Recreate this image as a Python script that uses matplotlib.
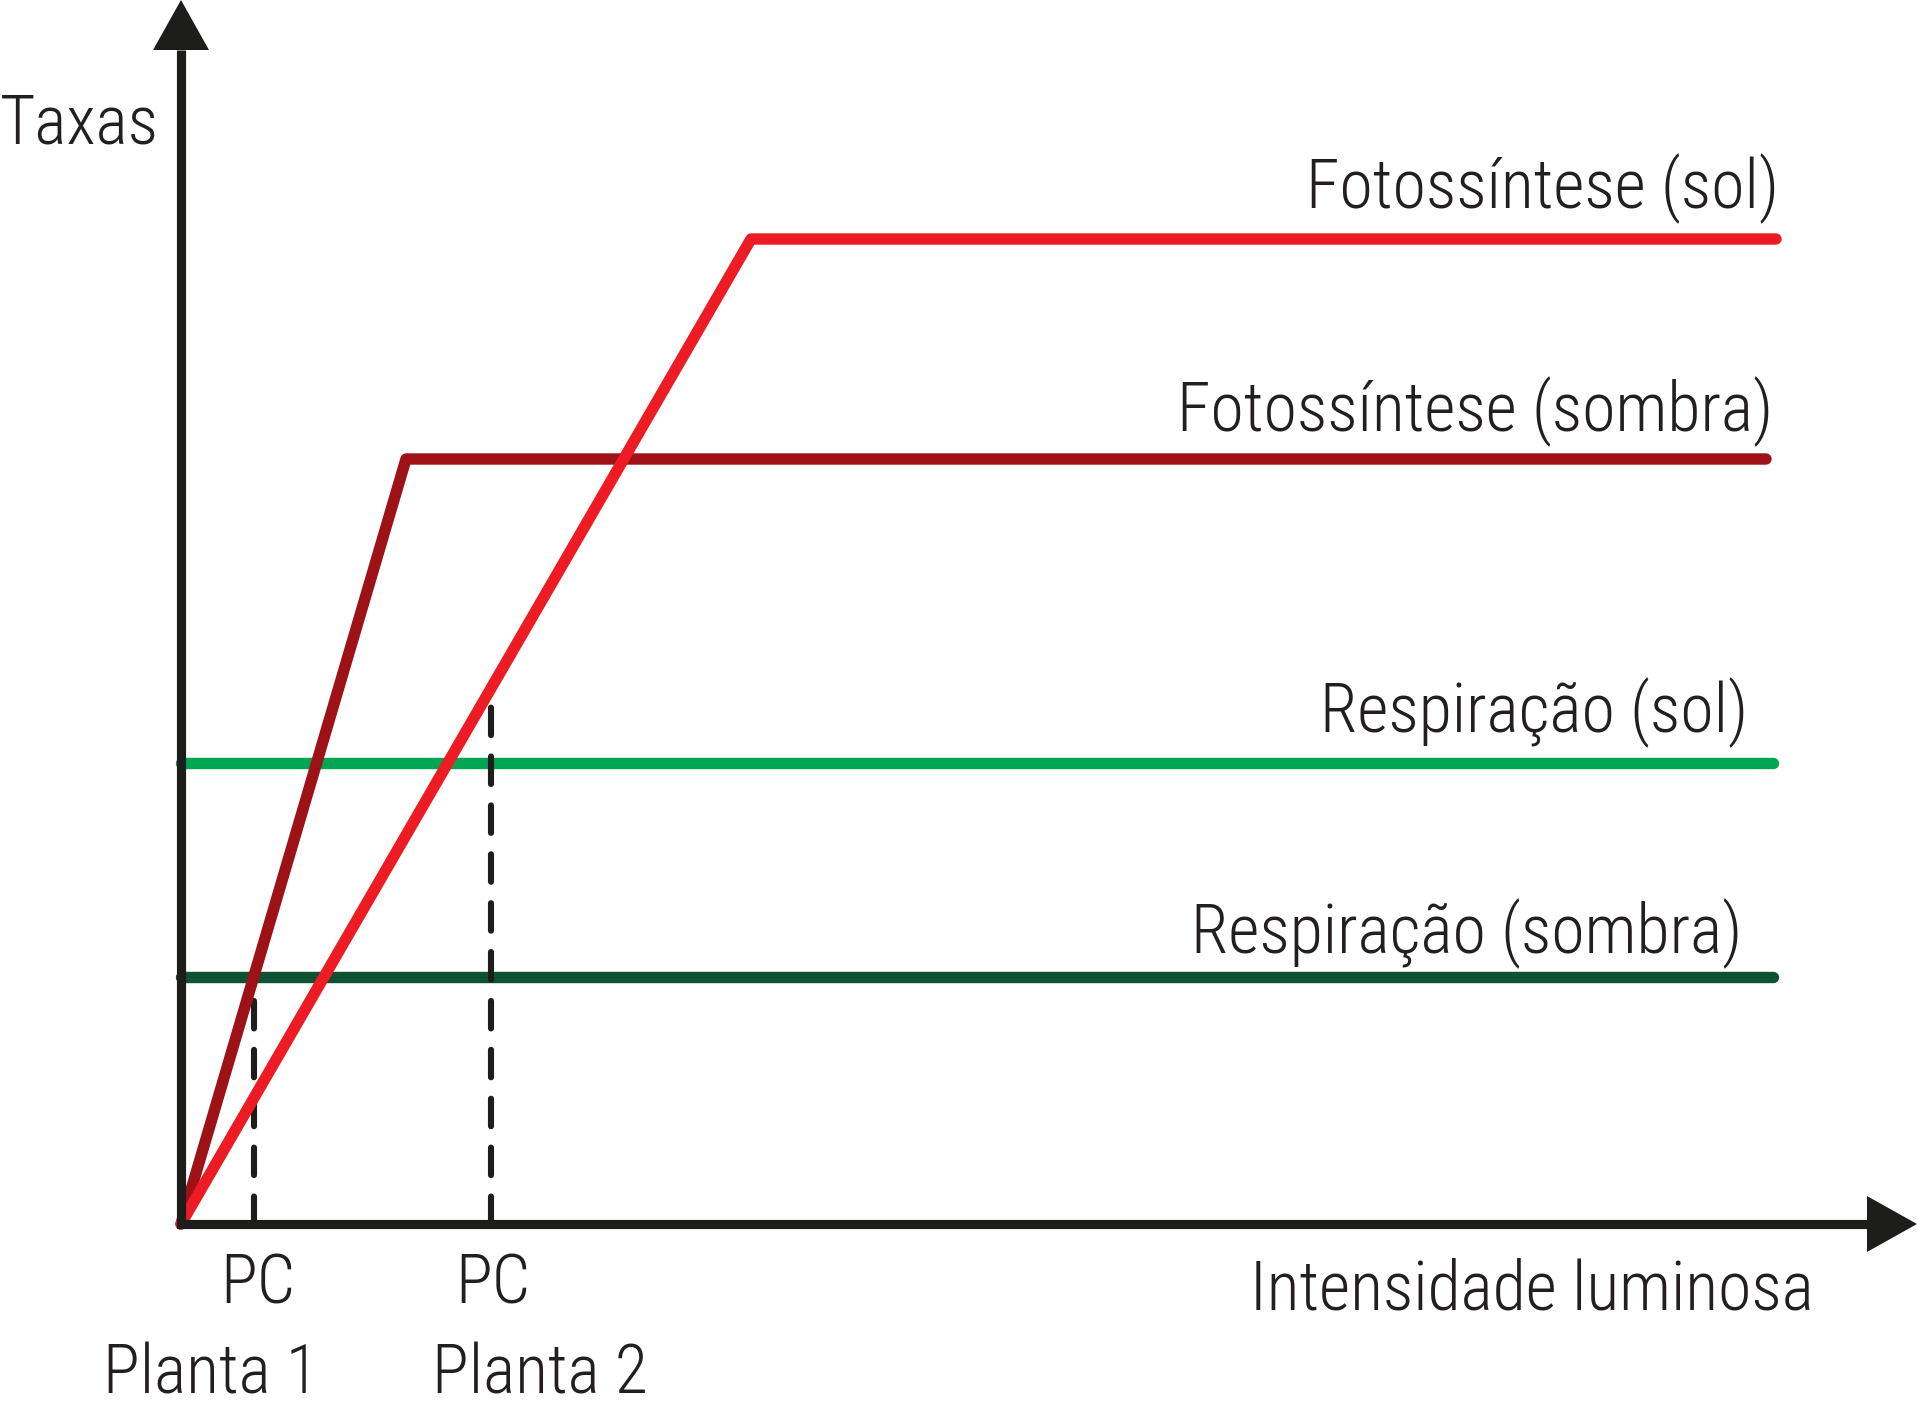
import os
import matplotlib
matplotlib.use("Agg")
import matplotlib.pyplot as plt
from matplotlib import font_manager
from matplotlib.font_manager import FontProperties

# ---- data (arbitrary units; origin at 0,0) ----
foto_sol_x = [0, 57.0, 159.5]
foto_sol_y = [0, 98.5, 98.5]
foto_sombra_x = [0, 22.5, 158.5]
foto_sombra_y = [0, 76.5, 76.5]
resp_x = [0, 159.2]
resp_sol_y = 46.1
resp_sombra_y = 24.7
pc_x = [7.25, 31.0]
pc_top = [24.6, 53.4]
series_labels = ["Fotossíntese (sol)", "Fotossíntese (sombra)",
                 "Respiração (sol)", "Respiração (sombra)"]
xlabel = "Intensidade luminosa"
ylabel = "Taxas"

# ---- fonts: prefer a condensed light sans ----
prefs = ["notosans-condensedlight", "robotocondensed-light", "roboto_condensed-light",
         "opensans-condensedlight", "notosans-condensed", "robotocondensed-regular",
         "notosans-extracondensedlight", "liberationsansnarrow-regular",
         "dejavusanscondensed"]
files = {}
for f in font_manager.fontManager.ttflist:
    b = os.path.splitext(os.path.basename(f.fname))[0].lower()
    files.setdefault(b, f.fname)
chosen = None
for p in prefs:
    if p in files:
        chosen = files[p]
        break
if chosen is None:
    for b, fn in files.items():
        if "condensed" in b or "narrow" in b:
            chosen = fn
            break
FP = FontProperties(fname=chosen) if chosen else FontProperties(family="DejaVu Sans", stretch="condensed")

TXT = "#231f20"
AX = "#1d1d1b"
RED = "#ed1c24"
DRED = "#9d1117"
GREEN = "#00a651"
DGREEN = "#0f5133"

W, H = 1920, 1408
fig = plt.figure(figsize=(W / 100, H / 100), dpi=100)
ox, oy = 181, 1224
ax = fig.add_axes([ox / W, (H - oy) / H, (W - ox) / W, oy / H])
xmax = (W - ox) / 10
ymax = oy / 10
ax.set_xlim(0, xmax)
ax.set_ylim(0, ymax)
ax.axis("off")

FS = 49
LW = 8.2

# respiration lines
ax.plot(resp_x, [resp_sol_y] * 2, color=GREEN, lw=LW, solid_capstyle="round", zorder=2, clip_on=False)
ax.plot(resp_x, [resp_sombra_y] * 2, color=DGREEN, lw=LW, solid_capstyle="round", zorder=2, clip_on=False)

# dashed PC lines
for x, t in zip(pc_x, pc_top):
    ax.plot([x, x], [0, t], color=AX, lw=4.4, dashes=(4.5, 3.5),
            dash_capstyle="round", zorder=3, clip_on=False)

# photosynthesis
ax.plot(foto_sombra_x, foto_sombra_y, color=DRED, lw=LW, solid_capstyle="round",
        solid_joinstyle="round", zorder=4, clip_on=False)
ax.plot(foto_sol_x, foto_sol_y, color=RED, lw=LW, solid_capstyle="round",
        solid_joinstyle="round", zorder=5, clip_on=False)

# axes with arrows
ah_len, ah_w = 5.0, 2.8
tip_x = xmax - 0.3
tip_y = ymax
ax.plot([0, 0, tip_x - ah_len], [tip_y - ah_len, 0, 0], color=AX, lw=6.6,
        solid_joinstyle="miter", solid_capstyle="butt", zorder=6, clip_on=False)
ax.fill([tip_x - ah_len, tip_x, tip_x - ah_len], [-ah_w, 0, ah_w], color=AX, lw=0,
        zorder=6, clip_on=False)
ax.fill([-ah_w, 0, ah_w], [tip_y - ah_len, tip_y, tip_y - ah_len], color=AX, lw=0,
        zorder=6, clip_on=False)

# series labels (right-aligned, baseline)
lab_pos = [(159.8, 101.6), (159.2, 79.3), (156.7, 49.2), (156.1, 27.1)]
for (x, y), s in zip(lab_pos, series_labels):
    ax.text(x, y, s, ha="right", va="baseline", fontsize=FS, color=TXT, fontproperties=FP)

# axis titles
fig.text(0, (H - 143) / H, ylabel, ha="left", va="baseline", fontsize=FS, color=TXT,
         fontproperties=FP)
ax.text(163.3, -8.6, xlabel, ha="right", va="baseline", fontsize=FS, color=TXT,
        fontproperties=FP)

# PC labels
ax.text(pc_x[0] + 0.4, -8.0, "PC", ha="center", va="baseline", fontsize=FS, color=TXT,
        fontproperties=FP)
ax.text(pc_x[1] + 0.2, -8.0, "PC", ha="center", va="baseline", fontsize=FS, color=TXT,
        fontproperties=FP)
ax.text(3.0, -16.9, "Planta 1", ha="center", va="baseline", fontsize=FS, color=TXT,
        fontproperties=FP)
ax.text(35.9, -16.9, "Planta 2", ha="center", va="baseline", fontsize=FS, color=TXT,
        fontproperties=FP)

fig.savefig("out.png", dpi=100)
